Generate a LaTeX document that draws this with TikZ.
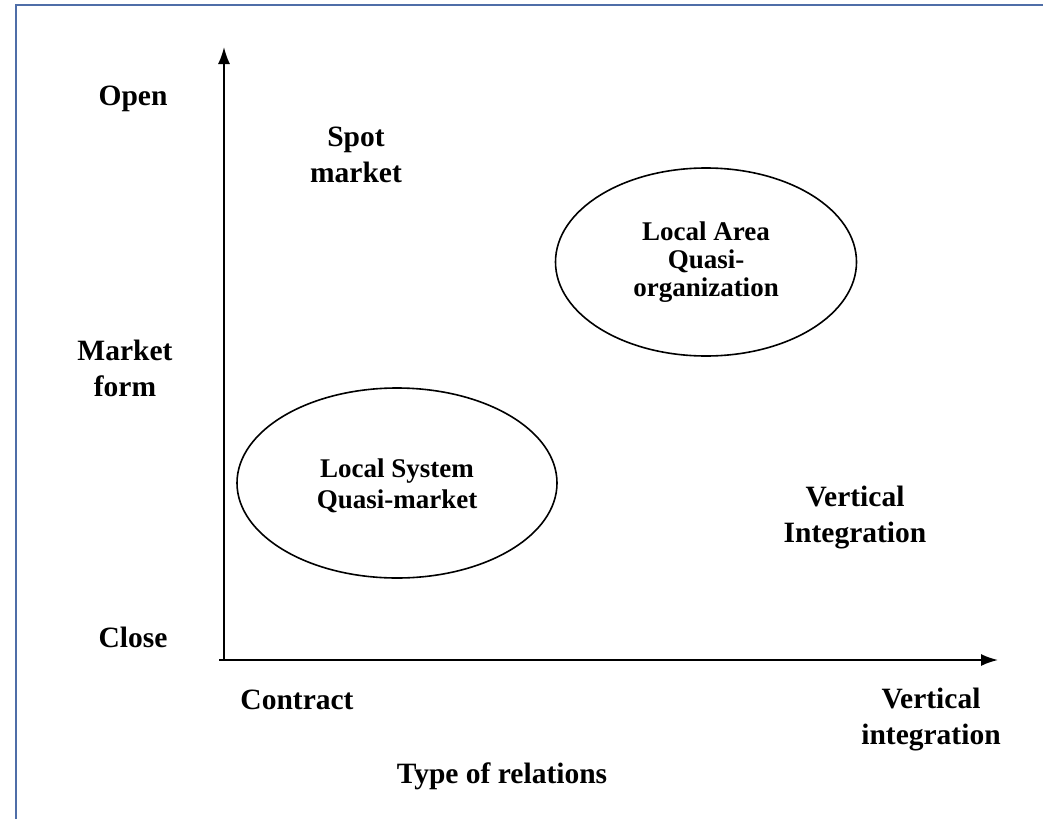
\documentclass[tikz,border=0pt]{standalone}
\usepackage{fontspec}
\setmainfont{Liberation Serif}
\usetikzlibrary{arrows.meta,shapes.geometric}
\definecolor{framecol}{HTML}{4F6EA8}
\tikzset{
  lbl/.style={font=\fontsize{29.5}{36}\selectfont\bfseries, align=center, inner sep=0pt},
  elltext/.style={font=\fontsize{27}{31}\selectfont\bfseries, align=center, inner sep=0pt},
  ellbox/.style={draw, ellipse, line width=1.6pt, inner sep=0pt},
  axis/.style={line width=1.8pt, -{Latex[length=17pt,width=12pt]}},
}
\begin{document}
\begin{tikzpicture}[x=1pt,y=-1pt]
\useasboundingbox (0,0) rectangle (1043,819);
\fill[white] (0,0) rectangle (1043,819);
% frame
\draw[framecol, line width=2.5pt] (16,819) -- (16,5) -- (1043,5);
% axes
\coordinate (origin) at (224,660);
\coordinate (ytip) at (224,47);
\coordinate (xstart) at (219,660);
\coordinate (xtip) at (998,660);
\draw[axis] (origin) -- (ytip);
\draw[axis] (xstart) -- (xtip);
% labels
\node[lbl] (open) at (133,99) {Open};
\node[lbl] (spot) at (356,155) {Spot\\market};
\node[lbl] (mform) at (125,368) {Market\\form};
\node[lbl] (close) at (133,637) {Close};
\node[lbl] (contract) at (297,700) {Contract};
\node[lbl] (vint) at (931,720) {Vertical\\integration};
\node[lbl] (type) at (502,776) {Type of relations};
\node[lbl] (vInt) at (855,518) {Vertical\\Integration};
% ellipses
\node[ellbox, minimum width=301pt, minimum height=188pt] (lao) at (706,262) {};
\node[elltext, font=\fontsize{27}{28}\selectfont\bfseries] (laotext) at (706,262) {Local Area\\Quasi-\\organization};
\node[ellbox, minimum width=320pt, minimum height=190pt] (lsq) at (397,483) {};
\node[elltext] (lsqtext) at (397,486) {Local System\\Quasi-market};
\end{tikzpicture}
\end{document}
